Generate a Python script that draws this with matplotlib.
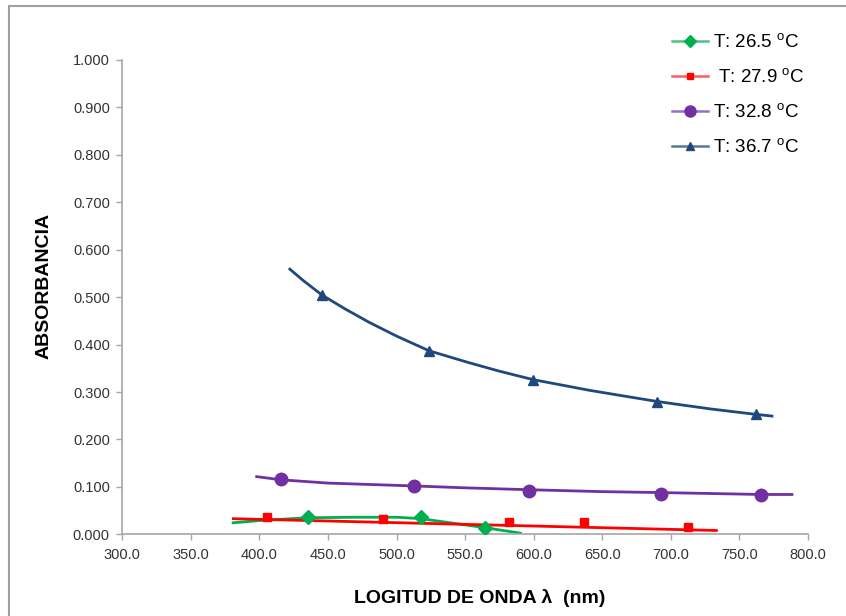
import matplotlib.pyplot as plt
from matplotlib.lines import Line2D
from matplotlib.patches import Rectangle

plt.rcParams['font.family'] = ['Liberation Sans', 'DejaVu Sans']
plt.rcParams['mathtext.fontset'] = 'custom'
plt.rcParams['mathtext.rm'] = 'Liberation Sans'

# Etiquetas de la leyenda
labels = ['T: 26.5 $^{\\rm o}$C', ' T: 27.9 $^{\\rm o}$C',
          'T: 32.8 $^{\\rm o}$C', 'T: 36.7 $^{\\rm o}$C']

# Puntos medidos (longitud de onda, absorbancia)
x_265 = [435.7, 517.7, 564.6]
y_265 = [0.036, 0.036, 0.014]
x_279 = [405.3, 490.3, 581.7, 636.7, 712.8]
y_279 = [0.036, 0.033, 0.025, 0.025, 0.016]
x_328 = [415.5, 512.7, 597.0, 693.1, 765.9]
y_328 = [0.116, 0.102, 0.092, 0.086, 0.083]
x_367 = [445.4, 523.7, 599.8, 690.3, 761.9]
y_367 = [0.505, 0.387, 0.326, 0.280, 0.253]

# Lineas de tendencia
tx_265 = [379.8, 400, 435.7, 470, 500, 517.7, 540, 564.6, 591.4]
ty_265 = [0.024, 0.029, 0.035, 0.036, 0.036, 0.033, 0.024, 0.014, 0.002]
tx_279 = [380.0, 734.4]
ty_279 = [0.033, 0.008]
tx_328 = [397.0, 415.5, 450, 512.7, 550, 597.0, 650, 693.1, 730, 765.9, 789.5]
ty_328 = [0.122, 0.115, 0.108, 0.102, 0.098, 0.094, 0.090, 0.088, 0.086, 0.084, 0.084]
tx_367 = [421.4, 432, 445.4, 462, 480, 500, 523.7, 552.7, 575, 599.8,
          620, 640, 665, 690.3, 710, 730, 761.9, 774.9]
ty_367 = [0.561, 0.535, 0.505, 0.476, 0.447, 0.418, 0.387, 0.362, 0.344, 0.326,
          0.315, 0.304, 0.292, 0.280, 0.272, 0.264, 0.253, 0.249]

x_ticks = [300, 350, 400, 450, 500, 550, 600, 650, 700, 750, 800]
y_ticks = [0.0, 0.1, 0.2, 0.3, 0.4, 0.5, 0.6, 0.7, 0.8, 0.9, 1.0]

colors = ['#00B050', '#FF0000', '#7030A0', '#1F497D']
legend_line = ['#4CC27F', '#FF5C5C', '#9B6BC6', '#5B7594']
markers = ['D', 's', 'o', '^']
msizes = [7, 6, 9, 7]

fig = plt.figure(figsize=(8.46, 6.16), dpi=100)
ax = fig.add_axes([0.1446, 0.1326, 0.8102, 0.7700])

series = [(x_265, y_265, tx_265, ty_265), (x_279, y_279, tx_279, ty_279),
          (x_328, y_328, tx_328, ty_328), (x_367, y_367, tx_367, ty_367)]

for i, (xs, ys, tx, ty) in enumerate(series):
    ax.plot(tx, ty, color=colors[i], lw=2.0, solid_capstyle='butt',
            solid_joinstyle='round', zorder=2)
    ax.plot(xs, ys, ls='none', marker=markers[i], ms=msizes[i],
            color=colors[i], mec=colors[i], zorder=3)

ax.set_xlim(300, 800)
ax.set_ylim(0, 1)
ax.set_xticks(x_ticks)
ax.set_yticks(y_ticks)
ax.set_xticklabels(['%.1f' % v for v in x_ticks])
ax.set_yticklabels(['%.3f' % v for v in y_ticks])

for s in ['top', 'right']:
    ax.spines[s].set_visible(False)
for s in ['left', 'bottom']:
    ax.spines[s].set_color('#A6A6A6')
    ax.spines[s].set_linewidth(1.2)
ax.tick_params(axis='both', direction='out', length=4, width=1.0,
               color='#A6A6A6', labelsize=10.5, labelcolor='#333333')
ax.tick_params(axis='y', pad=5)
ax.tick_params(axis='x', pad=6)

ax.set_xlabel('LOGITUD DE ONDA λ  (nm)', fontsize=14, fontweight='bold')
ax.set_ylabel('ABSORBANCIA', fontsize=14, fontweight='bold')
ax.xaxis.label.set_va('center')
ax.yaxis.label.set_va('center')
ax.xaxis.set_label_coords(0.522, -0.134)
ax.yaxis.set_label_coords(-0.114, 0.5235)

handles = [Line2D([], [], color=legend_line[i], lw=1.8, marker=markers[i],
                  ms=msizes[i] - 1, mfc=colors[i], mec=colors[i])
           for i in range(4)]
fig.legend(handles, labels, loc='upper left',
           bbox_to_anchor=(672 / 846, 1 - 33 / 616), frameon=False,
           fontsize=13.5, handlelength=1.9, handletextpad=0.3,
           labelspacing=0.87, borderpad=0, borderaxespad=0)

# Marco del area del grafico
fig.patches.append(Rectangle((8.5 / 846, -0.05), 1.1, 1 - 6 / 616 + 0.05,
                             transform=fig.transFigure, fill=False,
                             edgecolor='#A0A0A0', lw=1.5))

fig.savefig('out.png', dpi=100)
